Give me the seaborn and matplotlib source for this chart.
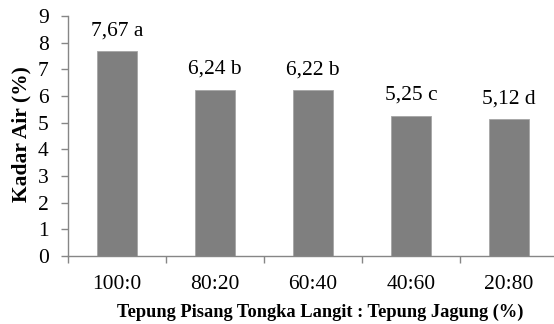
import matplotlib
matplotlib.use("Agg")
import matplotlib.pyplot as plt
import seaborn as sns
import pandas as pd
import numpy as np

categories = ["100:0", "80:20", "60:40", "40:60", "20:80"]
values = [7.67, 6.24, 6.22, 5.25, 5.12]
labels = ["7,67 a", "6,24 b", "6,22 b", "5,25 c", "5,12 d"]

df = pd.DataFrame({"cat": categories, "val": values})

sns.set_theme(style="white")
plt.rcParams["font.family"] = ["Liberation Serif", "DejaVu Serif"]

fig = plt.figure(figsize=(5.54, 3.24), dpi=100)
W, H = 554, 324
ax = fig.add_axes([68 / W, 1 - 256 / H, (558 - 68) / W, (256 - 16) / H])

sns.barplot(data=df, x="cat", y="val", ax=ax, color="#7f7f7f", width=0.4,
            saturation=1, edgecolor="#a6a6a6", linewidth=0.6)

ax.set_xlim(-0.5, 4.5)
ax.set_ylim(0, 9)
ax.set_yticks(range(0, 10))

for i, (v, lab) in enumerate(zip(values, labels)):
    ax.annotate(lab, (i, v), xytext=(0, 11.5), textcoords="offset points",
                ha="center", va="baseline", fontsize=15.5, color="black")

spine_c = "#868686"
for s in ["top", "right"]:
    ax.spines[s].set_visible(False)
for s in ["left", "bottom"]:
    ax.spines[s].set_color(spine_c)
    ax.spines[s].set_linewidth(1.0)

ax.set_xticks(np.arange(-0.5, 5.0, 1.0), minor=True)
ax.tick_params(axis="x", which="major", length=0, labelsize=15.5, pad=14, colors="black")
ax.tick_params(axis="x", which="minor", length=5, width=1, color=spine_c, direction="out", bottom=True)
ax.tick_params(axis="y", which="major", length=5, width=1, color=spine_c, direction="out",
               left=True, labelsize=15.5, pad=9, labelcolor="black")

ax.set_xlabel("Tepung Pisang Tongka Langit : Tepung Jagung (%)", fontsize=13.2,
              fontweight="bold", color="black")
ax.set_ylabel("Kadar Air (%)", fontsize=15.5, fontweight="bold", color="black")
ax.xaxis.set_label_coords((320 - 68) / (558 - 68), -(312 - 256) / (256 - 16))
ax.xaxis.label.set_va("center")
ax.yaxis.set_label_coords(-(68 - 21) / (558 - 68), (256 - 134) / (256 - 16))
ax.yaxis.label.set_va("center")

fig.savefig("out.png", dpi=100)
